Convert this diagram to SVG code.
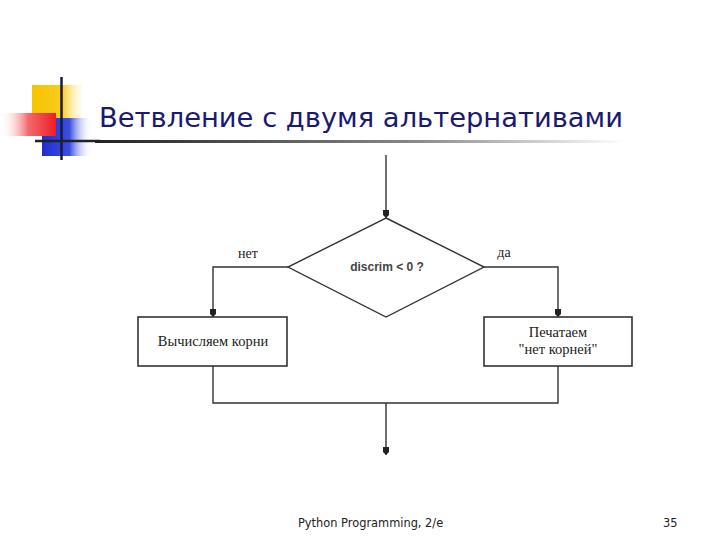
<svg xmlns="http://www.w3.org/2000/svg" width="720" height="540" viewBox="0 0 720 540">
<defs>
<linearGradient id="gY" x1="0" y1="0" x2="1" y2="0"><stop offset="0" stop-color="#f5c400"/><stop offset="0.6" stop-color="#f8cc20"/><stop offset="1" stop-color="#fff3c0" stop-opacity="0.2"/></linearGradient>
<linearGradient id="gR" x1="1" y1="0" x2="0" y2="0"><stop offset="0" stop-color="#ee1c24"/><stop offset="0.5" stop-color="#f46a6e"/><stop offset="1" stop-color="#ffffff" stop-opacity="0"/></linearGradient>
<linearGradient id="gB" x1="0" y1="0" x2="1" y2="0"><stop offset="0" stop-color="#1e2fd0"/><stop offset="0.55" stop-color="#3a4ee0"/><stop offset="1" stop-color="#ffffff" stop-opacity="0"/></linearGradient>
<linearGradient id="gL" x1="0" y1="0" x2="1" y2="0"><stop offset="0" stop-color="#222"/><stop offset="0.6" stop-color="#888"/><stop offset="1" stop-color="#fff"/></linearGradient>
<marker id="ah" markerWidth="8" markerHeight="6" refX="8" refY="3" orient="auto" markerUnits="userSpaceOnUse" viewBox="0 0 8 6"><path d="M0,0 L5,0 L8,3 L5,6 L0,6 Z" fill="#222"/></marker>
<style>
.ln{fill:none;stroke:#333;stroke-width:1.4}
.bx{fill:#fff;stroke:#333;stroke-width:1.6}
.ser{font-family:"Liberation Serif",serif;font-size:14.5px;fill:#222}
.lbl{font-family:"Liberation Serif",serif;font-size:14px;fill:#222}
.sans{font-family:"Liberation Sans",sans-serif;font-size:12px;font-weight:bold;fill:#444}
.foot{font-family:"DejaVu Sans",sans-serif;font-size:11.4px;fill:#222}
</style>
</defs>
<g id="logo">
<rect x="32" y="85" width="50" height="35" fill="url(#gY)"/>
<rect x="42" y="118" width="50" height="38" fill="url(#gB)"/>
<rect x="0" y="113" width="56" height="23" fill="url(#gR)"/>
<line x1="61.5" y1="77" x2="61.5" y2="160" stroke="#1a1a40" stroke-width="2.5"/>
<line x1="35" y1="141" x2="100" y2="141" stroke="#222" stroke-width="2.5"/>
<rect x="95" y="140" width="530" height="3" fill="url(#gL)"/>
</g>
<text id="title" x="99" y="127" font-family="DejaVu Sans, sans-serif" font-size="26" fill="#1a1a6e" textLength="524" lengthAdjust="spacingAndGlyphs">Ветвление с двумя альтернативами</text>
<g id="connectors">
<line class="ln" x1="386" y1="155" x2="386" y2="218" marker-end="url(#ah)"/>
<polyline class="ln" points="288,267 213,267 213,317" marker-end="url(#ah)"/>
<polyline class="ln" points="484,267 558,267 558,317" marker-end="url(#ah)"/>
<polyline class="ln" points="213,366 213,403 558,403 558,366"/>
<line class="ln" x1="386" y1="403" x2="386" y2="455" marker-end="url(#ah)"/>
</g>
<g id="decision">
<polygon points="386,218 484,267 386,317 288,267" fill="#fff" stroke="#333" stroke-width="1.4"/>
<text class="sans" x="387" y="271" text-anchor="middle">discrim &lt; 0 ?</text>
</g>
<g id="label-no"><text class="lbl" x="248" y="258" text-anchor="middle">нет</text></g>
<g id="label-yes"><text class="lbl" x="504" y="257" text-anchor="middle">да</text></g>
<g id="compute">
<rect class="bx" x="138" y="317" width="149" height="49"/>
<text class="ser" x="213" y="346" text-anchor="middle">Вычисляем корни</text>
</g>
<g id="print">
<rect class="bx" x="484" y="317" width="148" height="49"/>
<text class="ser" x="558" y="337" text-anchor="middle">Печатаем</text>
<text class="ser" x="558" y="354" text-anchor="middle">"нет корней"</text>
</g>
<text class="foot" x="298" y="527">Python Programming, 2/e</text>
<text class="foot" x="663" y="527">35</text>
</svg>
